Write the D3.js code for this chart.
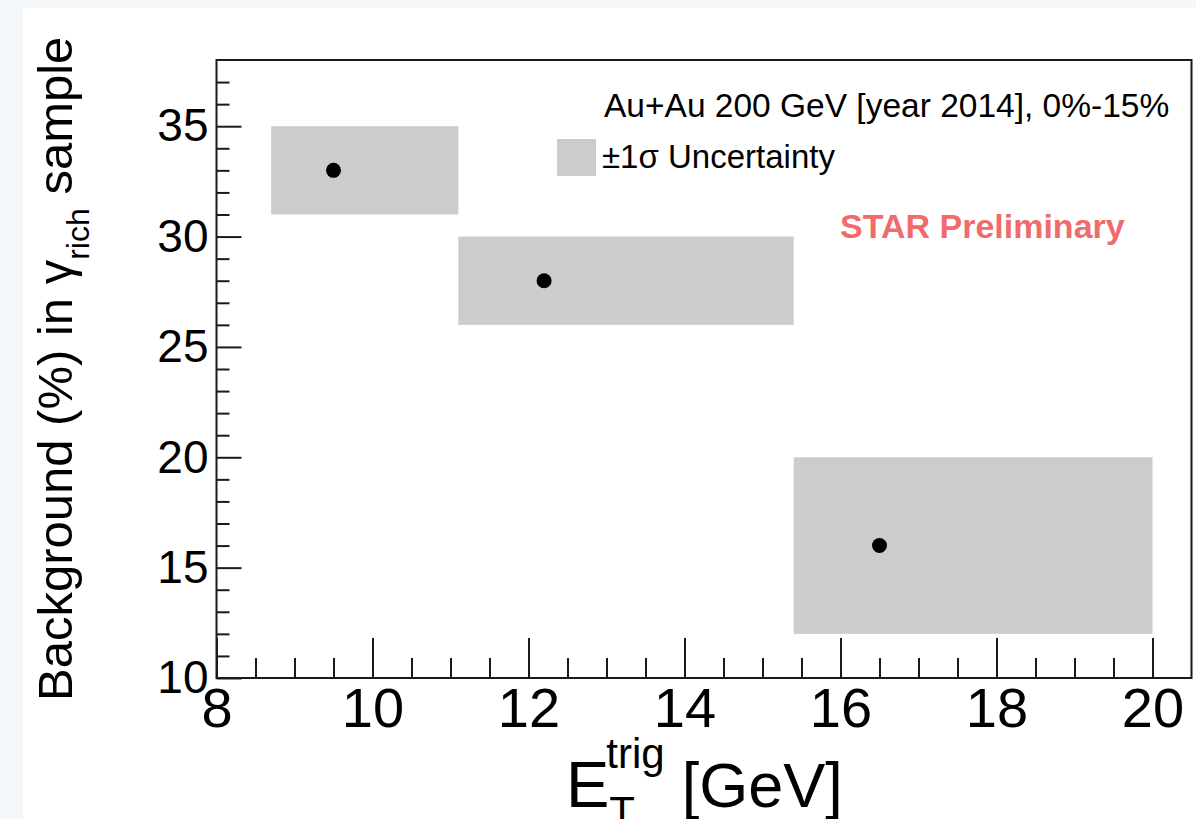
<!DOCTYPE html>
<html>
<head>
<meta charset="utf-8">
<script src="https://cdn.jsdelivr.net/npm/d3@7"></script>
<style>
  html, body { margin: 0; padding: 0; background: #f4f8fb; }
  svg { display: block; }
  text { font-family: "Liberation Sans", Arial, Helvetica, sans-serif; }
</style>
</head>
<body>
<svg id="chart" width="1196" height="819"></svg>
<script>
// Background fraction in the gamma-rich sample vs trigger E_T
const eTrig      = [9.5, 12.2, 16.5];   // point positions [GeV]
const background = [33, 28, 16];        // background (%)
const binLow     = [8.7, 11.1, 15.4];   // trigger bin lower edge [GeV]
const binHigh    = [11.1, 15.4, 20];    // trigger bin upper edge [GeV]
const sigmaLow   = [31, 26, 12];        // -1 sigma (%)
const sigmaHigh  = [35, 30, 20];        // +1 sigma (%)

const xMajorTicks = [8, 10, 12, 14, 16, 18, 20];
const xMinorTicks = [8.5, 9, 9.5, 10.5, 11, 11.5, 12.5, 13, 13.5, 14.5, 15, 15.5, 16.5, 17, 17.5, 18.5, 19, 19.5];
const yMajorTicks = [10, 15, 20, 25, 30, 35];
const yMinorTicks = [11, 12, 13, 14, 16, 17, 18, 19, 21, 22, 23, 24, 26, 27, 28, 29, 31, 32, 33, 34, 36, 37];

const headerText  = "Au+Au 200 GeV [year 2014], 0%-15%";
const legendLabel = "\u00B11\u03C3 Uncertainty";
const stampText   = "STAR Preliminary";

const svg = d3.select("#chart");
const W = 1196, H = 819;
const plot = { left: 216.5, right: 1191.5, top: 60, bottom: 678 };

// page canvas
svg.append("rect").attr("x", 23).attr("y", 8).attr("width", W - 23).attr("height", H - 8).attr("fill", "#ffffff");

const x = d3.scaleLinear().domain([8, 20.5]).range([plot.left, plot.right]);
const y = d3.scaleLinear().domain([10, 38]).range([plot.bottom, plot.top]);

const rows = eTrig.map((e, i) => ({
  e, v: background[i], lo: binLow[i], hi: binHigh[i], sLo: sigmaLow[i], sHi: sigmaHigh[i]
}));

// uncertainty boxes
svg.append("g").selectAll("rect").data(rows).join("rect")
  .attr("x", d => x(d.lo))
  .attr("y", d => y(d.sHi))
  .attr("width", d => x(d.hi) - x(d.lo))
  .attr("height", d => y(d.sLo) - y(d.sHi))
  .attr("fill", "#cccccc");

// central values
svg.append("g").selectAll("circle").data(rows).join("circle")
  .attr("cx", d => x(d.e))
  .attr("cy", d => y(d.v))
  .attr("r", 7.5)
  .attr("fill", "#000000");

// axes (ticks pointing into the frame)
function styleAxis(g) {
  g.select(".domain").remove();
  g.selectAll(".tick line").attr("stroke", "#1a1a1a").attr("stroke-width", 2);
}

svg.append("g").attr("transform", `translate(${plot.left},0)`)
  .call(d3.axisLeft(y).tickValues(yMinorTicks).tickSize(-13).tickFormat(""))
  .call(styleAxis);
svg.append("g").attr("transform", `translate(${plot.left},0)`)
  .call(d3.axisLeft(y).tickValues(yMajorTicks).tickSize(-25).tickPadding(8).tickFormat(d3.format("d")))
  .call(styleAxis)
  .call(g => g.selectAll("text").attr("font-size", 46).attr("fill", "#000").style("font-family", "Liberation Sans, Arial, sans-serif"));

svg.append("g").attr("transform", `translate(0,${plot.bottom})`)
  .call(d3.axisBottom(x).tickValues(xMinorTicks).tickSize(-20).tickFormat(""))
  .call(styleAxis);
svg.append("g").attr("transform", `translate(0,${plot.bottom})`)
  .call(d3.axisBottom(x).tickValues(xMajorTicks).tickSize(-40).tickPadding(9).tickFormat(d3.format("d")))
  .call(styleAxis)
  .call(g => g.selectAll("text").attr("font-size", 56).attr("fill", "#000").style("font-family", "Liberation Sans, Arial, sans-serif"));

// frame
svg.append("rect")
  .attr("x", plot.left).attr("y", plot.top)
  .attr("width", plot.right - plot.left).attr("height", plot.bottom - plot.top)
  .attr("fill", "none").attr("stroke", "#1a1a1a").attr("stroke-width", 2);

// header and legend
svg.append("text").attr("x", 604).attr("y", 117)
  .attr("font-size", 33.5).attr("fill", "#000").text(headerText);
svg.append("rect").attr("x", 557).attr("y", 139).attr("width", 39).attr("height", 37).attr("fill", "#cccccc");
svg.append("text").attr("x", 602).attr("y", 168)
  .attr("font-size", 33).attr("fill", "#000").text(legendLabel);

svg.append("text").attr("x", 840).attr("y", 238)
  .attr("font-size", 34).attr("font-weight", "bold").attr("fill", "#f06b6b").text(stampText);

// x-axis title: E_T^trig [GeV]
const xt = svg.append("g");
const eMain = xt.append("text").attr("x", 566).attr("y", 807).attr("font-size", 65).text("E");
const eW = eMain.node().getComputedTextLength();
const sub = xt.append("text").attr("x", 566 + eW).attr("y", 826).attr("font-size", 42).text("T");
const sup = xt.append("text").attr("x", 566 + eW - 3).attr("y", 768).attr("font-size", 42).text("trig");
const scriptW = Math.max(sub.node().getComputedTextLength(), sup.node().getComputedTextLength());
xt.append("text").attr("x", 566 + eW + scriptW + 14).attr("y", 807).attr("font-size", 63).text("[GeV]");

// y-axis title: Background (%) in γ_rich sample
const yt = svg.append("text")
  .attr("transform", "translate(72,701) rotate(-90)")
  .attr("font-size", 49).attr("fill", "#000");
yt.append("tspan").text("Background (%) in \u03B3");
yt.append("tspan").attr("dy", 17).attr("font-size", 32).text("rich");
yt.append("tspan").attr("dy", -17).text(" sample");
</script>
</body>
</html>
